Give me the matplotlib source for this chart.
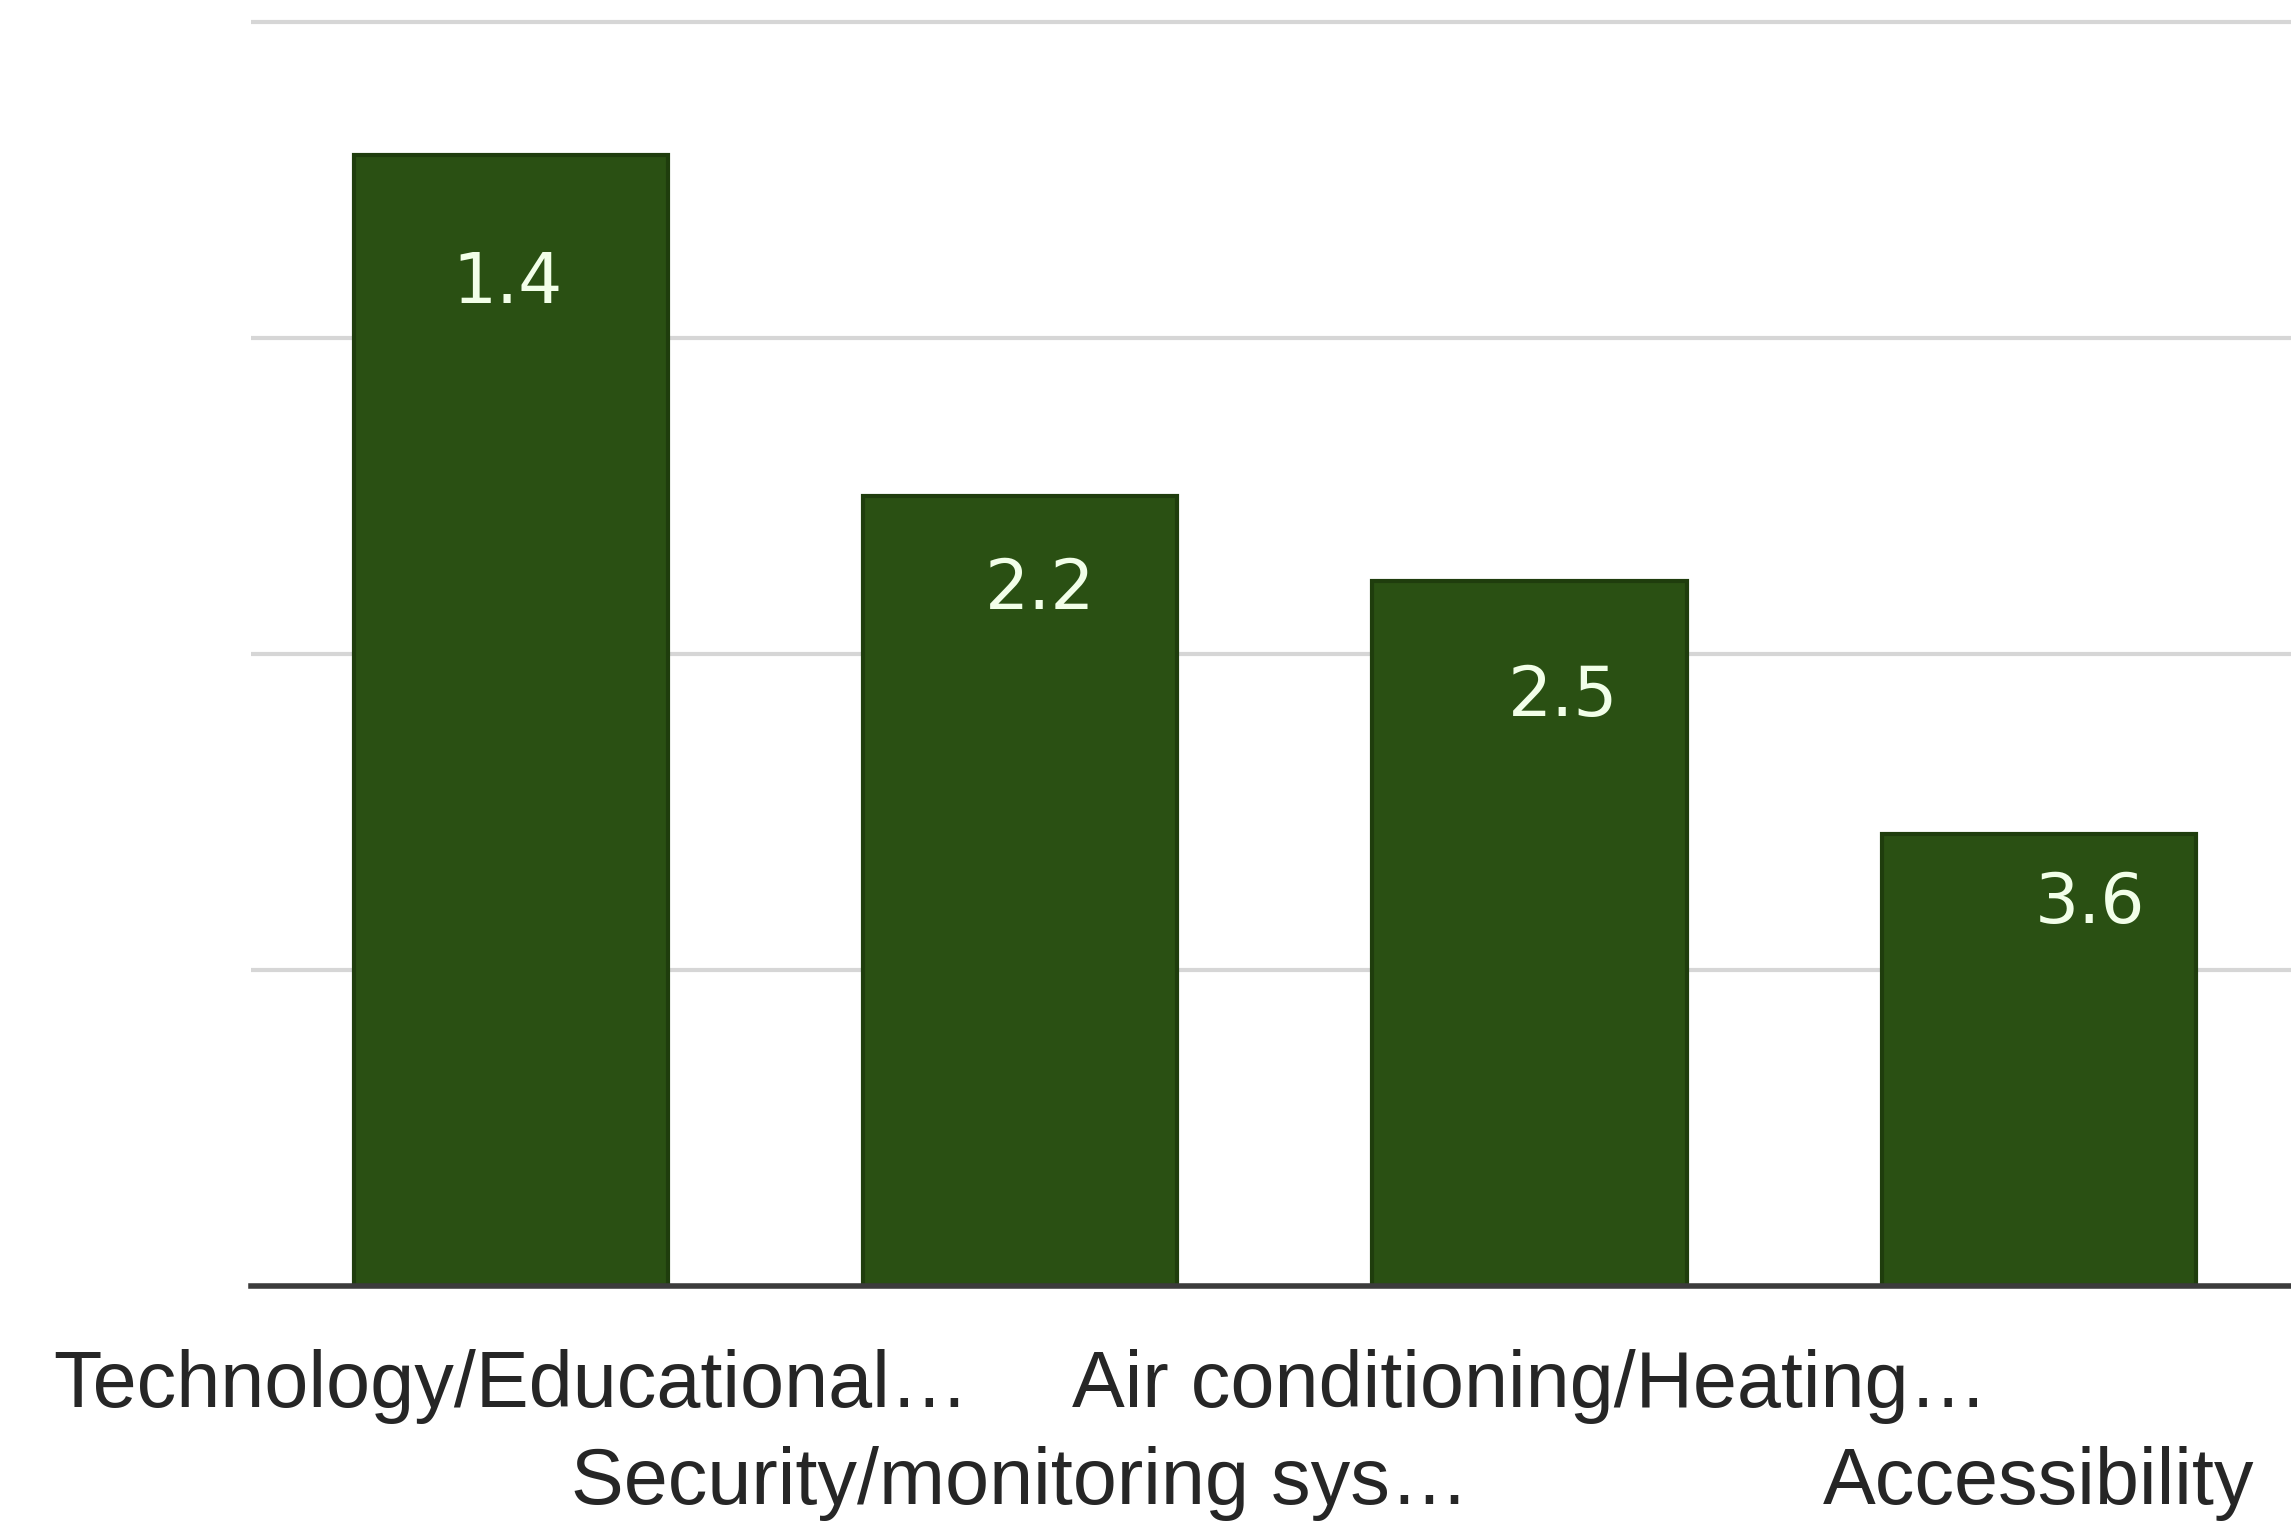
import matplotlib
matplotlib.use("Agg")
import matplotlib.pyplot as plt

# ---- data ----
categories = ["Technology/Educational…", "Security/monitoring sys…",
              "Air conditioning/Heating…", "Accessibility"]
bar_heights = [3.58, 2.5, 2.23, 1.43]
value_labels = ["1.4", "2.2", "2.5", "3.6"]
y_ticks = [0, 1, 2, 3, 4]

# ---- styling ----
bar_color = "#2a5013"
edge_color = "#1f3d0d"
label_offsets_px = [(-3, -129), (20, -93), (34, -115), (51, -69)]
tick_rows_px = [63, 160]

fig = plt.figure(figsize=(22.91, 15.27), dpi=100)
ax = fig.add_axes([0.1096, 0.1578, 0.8904, 0.8422])

x = list(range(len(categories)))
bars = ax.bar(x, bar_heights, width=0.617, color=bar_color,
              edgecolor=edge_color, linewidth=3, zorder=3)

ax.set_xlim(-0.51, 3.495)
ax.set_ylim(0, 4.07)
ax.set_yticks(y_ticks)
ax.yaxis.grid(True, color="#d6d6d6", linewidth=3, zorder=0)
ax.set_yticklabels([])
ax.tick_params(axis="y", length=0)
ax.tick_params(axis="x", length=0, labelbottom=False)
for s in ["top", "right", "left"]:
    ax.spines[s].set_visible(False)
ax.spines["bottom"].set_color("#3c3c3c")
ax.spines["bottom"].set_linewidth(4)
ax.spines["bottom"].set_zorder(4)

for rect, lab, (dx, dy) in zip(bars, value_labels, label_offsets_px):
    ax.annotate(lab, xy=(rect.get_x() + rect.get_width() / 2, rect.get_height()),
                xytext=(dx, dy), textcoords="offset pixels",
                ha="center", va="center", color="#f2ffe9",
                fontsize=50, family="DejaVu Sans", zorder=5)

for i, cat in enumerate(categories):
    dy = tick_rows_px[i % 2]
    ax.annotate(cat, xy=(i, 0), xycoords=("data", "data"),
                xytext=(0, -dy), textcoords="offset pixels",
                ha="center", va="top", color="#262626",
                fontsize=57, family="Liberation Sans", annotation_clip=False)

fig.savefig("out.png", dpi=100)
